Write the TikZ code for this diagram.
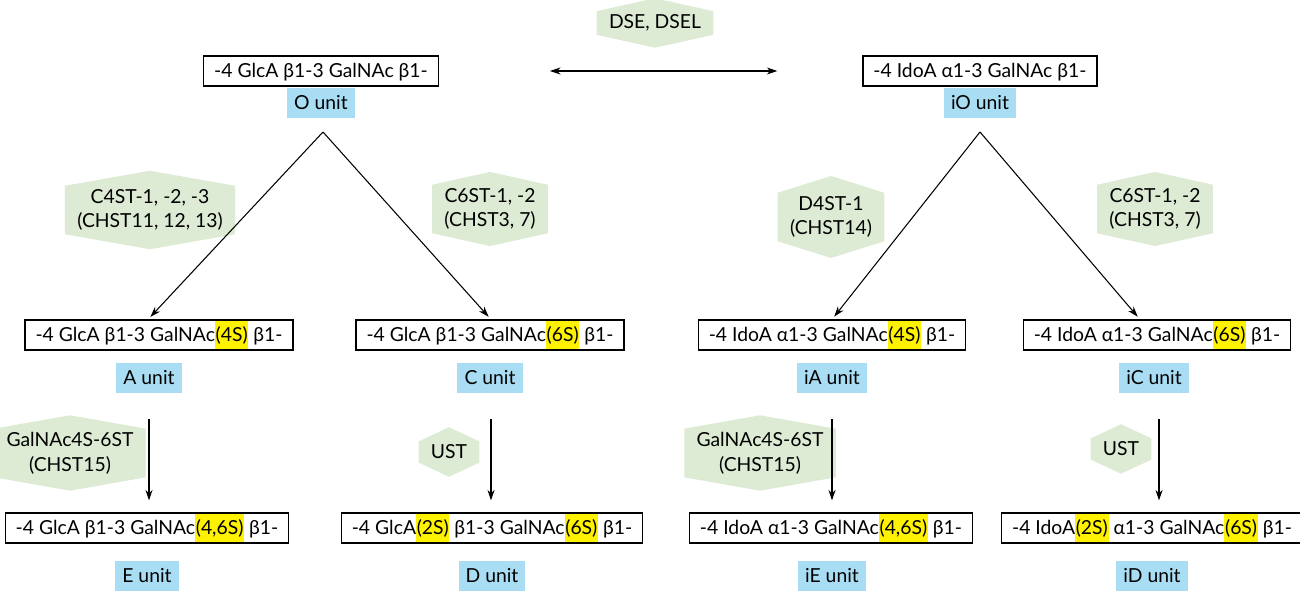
\documentclass[tikz,border=0pt]{standalone}
\usepackage{fontspec}
\setmainfont{Lato}
\usetikzlibrary{shapes.symbols,arrows.meta}
\newcommand{\hl}[1]{{\setlength{\fboxsep}{0pt}\colorbox{hlyellow}{\rule[-4.6pt]{0pt}{16.4pt}\hspace{0.4pt}#1\hspace{0.4pt}}}}
\tikzset{
  unitbox/.style={draw, line width=0.7pt, inner xsep=6pt, inner ysep=0.3pt, text height=11.8pt, text depth=4.6pt},
  unitlabel/.style={fill=unitblue, inner xsep=4pt, inner ysep=4.5pt},
  enzyme/.style={shape=signal, signal to=north and south, signal pointer angle=155, fill=enzgreen, inner xsep=7pt, inner ysep=2pt, align=center},
  conv/.style={-{Stealth[length=6pt,width=4pt]}, line width=0.6pt}
}
\begin{document}
\begin{tikzpicture}[font=\fontsize{11}{14}\selectfont]
\definecolor{unitblue}{HTML}{A9DDF3}
\definecolor{enzgreen}{HTML}{DDEAD4}
\definecolor{hlyellow}{HTML}{FFF200}
\useasboundingbox (0,0) rectangle (26,11.86);

% top row
\node[unitbox] (o) at (6.42,10.44) {-4 GlcA β1-3 GalNAc β1-};
\node[unitlabel] (ounit) at (6.42,9.80) {O unit};
\node[unitbox] (io) at (19.60,10.44) {-4 IdoA α1-3 GalNAc β1-};
\node[unitlabel] (iounit) at (19.60,9.80) {iO unit};
\node[enzyme] (dse) at (13.10,11.40) {DSE, DSEL};
\draw[conv, {Stealth[length=6pt,width=4pt]}-{Stealth[length=6pt,width=4pt]}, shorten <=2.22cm, shorten >=1.7cm] (o) -- (io);

\coordinate (ltop) at (6.46,9.22);
\coordinate (rtop) at (19.60,9.22);

% middle row
\node[unitbox] (a) at (3.18,5.16) {-4 GlcA β1-3 GalNAc\hl{(4S)} β1-};
\node[unitlabel] (aunit) at (2.98,4.30) {A unit};
\node[unitbox] (c) at (9.80,5.16) {-4 GlcA β1-3 GalNAc\hl{(6S)} β1-};
\node[unitlabel] (cunit) at (9.80,4.30) {C unit};
\node[unitbox] (ia) at (16.64,5.16) {-4 IdoA α1-3 GalNAc\hl{(4S)} β1-};
\node[unitlabel] (iaunit) at (16.64,4.30) {iA unit};
\node[unitbox] (ic) at (23.14,5.16) {-4 IdoA α1-3 GalNAc\hl{(6S)} β1-};
\node[unitlabel] (icunit) at (23.08,4.30) {iC unit};

% bottom row
\node[unitbox] (e) at (2.94,1.30) {-4 GlcA β1-3 GalNAc\hl{(4,6S)} β1-};
\node[unitlabel] (eunit) at (2.94,0.34) {E unit};
\node[unitbox] (d) at (9.84,1.30) {-4 GlcA\hl{(2S)} β1-3 GalNAc\hl{(6S)} β1-};
\node[unitlabel] (dunit) at (9.84,0.34) {D unit};
\node[unitbox] (ie) at (16.62,1.30) {-4 IdoA α1-3 GalNAc\hl{(4,6S)} β1-};
\node[unitlabel] (ieunit) at (16.64,0.34) {iE unit};
\node[unitbox] (id) at (23.04,1.30) {-4 IdoA\hl{(2S)} α1-3 GalNAc\hl{(6S)} β1-};
\node[unitlabel] (idunit) at (23.04,0.34) {iD unit};

% enzymes
\node[enzyme, signal pointer angle=160] (c4st) at (3.00,7.66) {C4ST-1, -2, -3\\(CHST11, 12, 13)};
\node[enzyme] (c6stl) at (9.80,7.68) {C6ST-1, -2\\(CHST3, 7)};
\node[enzyme, signal pointer angle=145] (d4st) at (16.62,7.52) {D4ST-1\\(CHST14)};
\node[enzyme] (c6str) at (23.10,7.68) {C6ST-1, -2\\(CHST3, 7)};
\node[enzyme, signal pointer angle=160] (gall) at (1.40,2.80) {GalNAc4S-6ST\\(CHST15)};
\node[enzyme, signal pointer angle=130] (ustl) at (8.98,2.82) {UST};
\node[enzyme, signal pointer angle=160] (galr) at (15.20,2.80) {GalNAc4S-6ST\\(CHST15)};
\node[enzyme, signal pointer angle=130] (ustr) at (22.42,2.88) {UST};

% arrows
\draw[conv, shorten >=2pt] (ltop) -- ([xshift=-0.22cm]a.north);
\draw[conv, shorten >=2pt] (ltop) -- ([xshift=0.02cm]c.north);
\draw[conv, shorten >=2pt] (rtop) -- (ia.north);
\draw[conv, shorten >=2pt] (rtop) -- ([xshift=-0.34cm]ic.north);
\draw[conv, shorten <=0.52cm, shorten >=0.24cm] (aunit) -- (aunit |- e.north);
\draw[conv, shorten <=0.52cm, shorten >=0.24cm] ([xshift=0.02cm]cunit.south) -- ([xshift=0.02cm]cunit.south |- d.north);
\draw[conv, shorten <=0.52cm, shorten >=0.24cm] (iaunit) -- (iaunit |- ie.north);
\draw[conv, shorten <=0.52cm, shorten >=0.24cm] ([xshift=0.1cm]icunit.south) -- ([xshift=0.1cm]icunit.south |- id.north);
\end{tikzpicture}
\end{document}
